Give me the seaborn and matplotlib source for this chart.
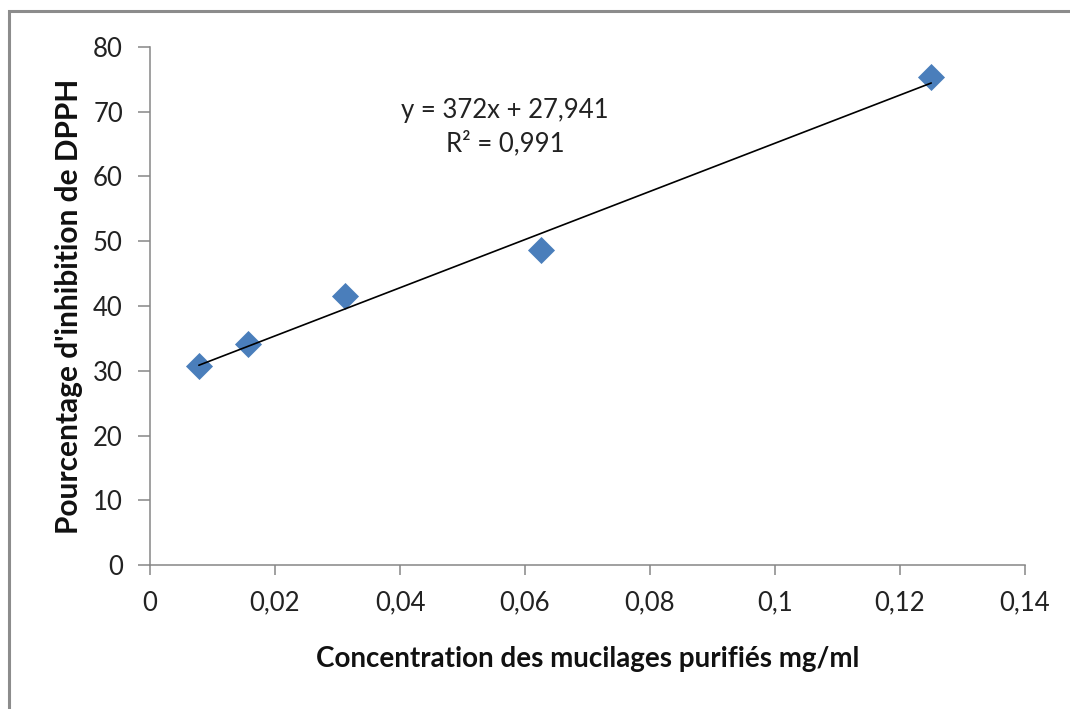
import numpy as np
import pandas as pd
import matplotlib
matplotlib.use("Agg")
import matplotlib.pyplot as plt
import seaborn as sns
from matplotlib.ticker import FuncFormatter, MultipleLocator
from matplotlib.patches import Rectangle

# Data
concentration = [0.0078125, 0.015625, 0.03125, 0.0625, 0.125]
inhibition = [30.7, 34.1, 41.5, 48.6, 75.4]
slope = 372.0
intercept = 27.941
equation_text = "y = 372x + 27,941\nR² = 0,991"
x_label = "Concentration des mucilages purifiés mg/ml"
y_label = "Pourcentage d'inhibition de DPPH"

df = pd.DataFrame({"x": concentration, "y": inhibition})

sns.set_style("white")
plt.rcParams["font.family"] = ["Lato", "DejaVu Sans"]

fig = plt.figure(figsize=(10.7, 7.09), dpi=100)
ax = fig.add_axes([150/1070, 1-565/709, (1025-150)/1070, (565-47)/709])

# Figure frame (top and left visible)
fig.patches.append(Rectangle((9/1070, -0.05), 1.2, 1 - 11/709 + 0.05,
                             transform=fig.transFigure, fill=False,
                             edgecolor="#8c8c8c", linewidth=2.2, zorder=0))

# Trendline
xs = np.array([min(concentration), max(concentration)])
ax.plot(xs, slope * xs + intercept, color="black", linewidth=1.2, zorder=3)

sns.scatterplot(data=df, x="x", y="y", marker="D", s=190, color="#4a7ebb",
                linewidth=0, ax=ax, zorder=2)

ax.set_xlim(0, 0.14)
ax.set_ylim(0, 80)
ax.xaxis.set_major_locator(MultipleLocator(0.02))
ax.yaxis.set_major_locator(MultipleLocator(10))
fmt = FuncFormatter(lambda v, p: f"{round(v, 4):g}".replace(".", ","))
ax.xaxis.set_major_formatter(fmt)

for side in ["top", "right"]:
    ax.spines[side].set_visible(False)
for side in ["left", "bottom"]:
    ax.spines[side].set_color("#868686")
    ax.spines[side].set_linewidth(1.1)

ax.tick_params(axis="y", which="major", direction="out", length=8.5, width=1.1,
               color="#868686", labelsize=18.5, pad=11, left=True, labelcolor="#222222")
ax.tick_params(axis="x", which="major", direction="out", length=7.5, width=1.1,
               color="#868686", labelsize=18.5, pad=11, bottom=True, labelcolor="#222222")

ax.set_xlabel(x_label, fontsize=20, fontweight="bold", labelpad=22, color="#111111")
ax.set_ylabel(y_label, fontsize=21.5, fontweight="bold", labelpad=7, color="#111111")

ax.text(0.0568, 67.6, equation_text, ha="center", va="center", fontsize=18.5,
        color="#222222", linespacing=1.35)

fig.savefig("out.png", dpi=100)
